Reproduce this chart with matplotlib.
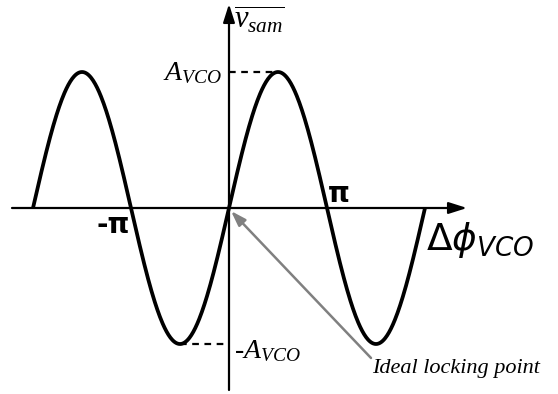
import matplotlib.pyplot as plt
import numpy as np

# phase-detector characteristic: sampled voltage vs VCO phase error
amplitude = 1.0
phase_start = -2 * np.pi
phase_end = 2 * np.pi
tick_positions = [-np.pi, np.pi]
tick_labels = ["-π", "π"]
level_labels = ["$A_{VCO}$", "-$A_{VCO}$"]
x_label = r"$\Delta\phi_{VCO}$"
y_label = r"$\overline{v_{sam}}$"
note_text = "Ideal locking point"
lock_point = (0.0, 0.0)

# drawing scale (pixels per radian / per unit amplitude)
PX_X = 98 / np.pi
PX_Y = 136

plt.rcParams["mathtext.fontset"] = "custom"
plt.rcParams["mathtext.rm"] = "Liberation Serif"
plt.rcParams["mathtext.it"] = "Liberation Serif:italic"

fig = plt.figure(figsize=(5.58, 3.94), dpi=100)
ax = fig.add_axes([0, 0, 1, 1])
ax.set_xlim(-229 / PX_X, (558 - 229) / PX_X)
ax.set_ylim(-(394 - 208) / PX_Y, 208 / PX_Y)
ax.axis("off")


def dx(px):
    return px / PX_X


def dy(px):
    return px / PX_Y


# axes with arrow heads
ax.annotate("", xy=(dx(238), 0), xytext=(dx(-217), 0),
            arrowprops=dict(arrowstyle="-|>,head_length=1.1,head_width=0.35",
                            lw=1.6, color="black", shrinkA=0, shrinkB=0))
ax.annotate("", xy=(0, dy(204)), xytext=(0, dy(-182)),
            arrowprops=dict(arrowstyle="-|>,head_length=1.1,head_width=0.35",
                            lw=1.6, color="black", shrinkA=0, shrinkB=0))

# sine curve
phase = np.linspace(phase_start, phase_end, 600)
ax.plot(phase, amplitude * np.sin(phase), color="black", lw=2.7,
        solid_capstyle="butt", zorder=3)

# dashed level markers to the peak and trough
ax.plot([0, np.pi / 2], [amplitude, amplitude], color="black", lw=1.6,
        ls=(0, (3, 2.5)))
ax.plot([-np.pi / 2, 0], [-amplitude, -amplitude], color="black", lw=1.6,
        ls=(0, (3, 2.5)))

ax.text(dx(-7), amplitude, level_labels[0], ha="right", va="center",
        fontsize=20)
ax.text(dx(5), -amplitude - dy(7), level_labels[1], ha="left", va="center",
        fontsize=20, family="Liberation Serif", style="italic")

# phase tick labels
ax.text(tick_positions[0] - dx(1), -dy(3), tick_labels[0], ha="right",
        va="top", fontsize=20, family="DejaVu Sans", weight="bold")
ax.text(tick_positions[1] + dx(1), dy(0), tick_labels[1], ha="left",
        va="bottom", fontsize=20, family="DejaVu Sans", weight="bold")

# axis labels
ax.text(dx(197), -dy(12), x_label, ha="left", va="top", fontsize=27,
        math_fontfamily="dejavusans")
ax.text(dx(5), dy(205), y_label, ha="left", va="top", fontsize=22)

# locking point callout
ax.annotate("", xy=(lock_point[0] + dx(2), lock_point[1] - dy(3)),
            xytext=(dx(142), -dy(150)),
            arrowprops=dict(arrowstyle="-|>,head_length=0.9,head_width=0.3",
                            lw=1.8, color="#808080", shrinkA=0, shrinkB=0))
ax.text(dx(143), -dy(160), note_text, ha="left", va="center", fontsize=16,
        style="italic", family="Liberation Serif")

fig.savefig("out.png", dpi=100)
